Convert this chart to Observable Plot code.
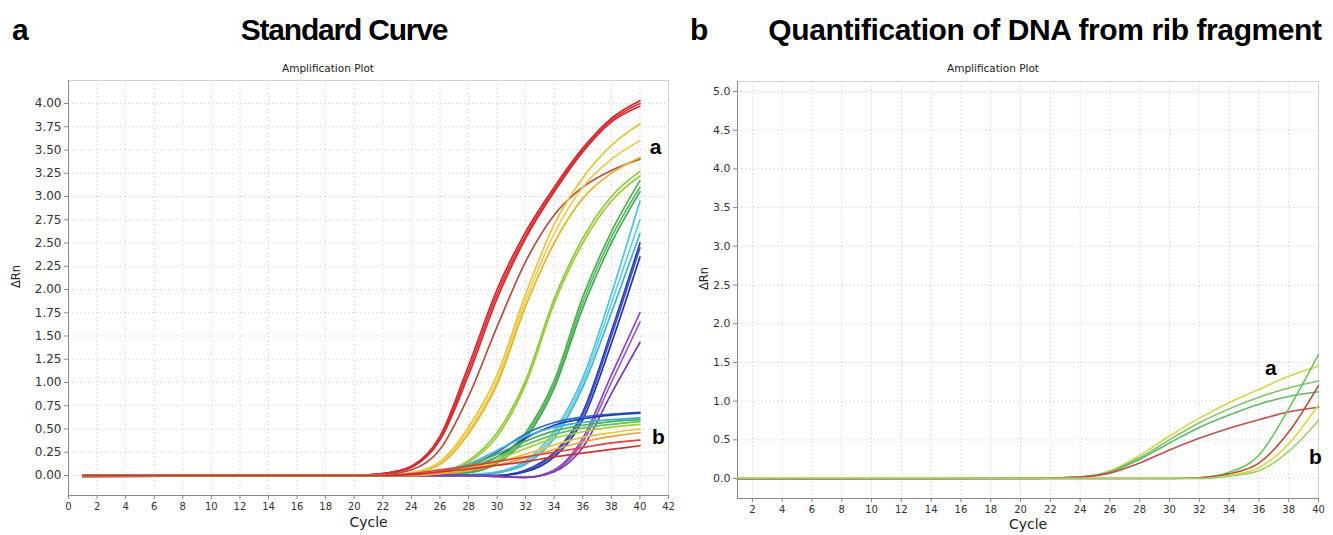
<!DOCTYPE html>
<html><head><meta charset="utf-8">
<script src="https://cdn.jsdelivr.net/npm/d3@7"></script>
<script src="https://cdn.jsdelivr.net/npm/@observablehq/plot@0.6"></script>
<style>
body{margin:0;background:#fff;font-family:"Liberation Sans",Arial,sans-serif;}
#wrap{position:relative;width:1333px;height:535px;overflow:hidden;background:#fff;}
.letter{position:absolute;font-weight:bold;font-size:30px;line-height:1;top:15px;color:#000}
.title{position:absolute;font-weight:bold;font-size:30px;line-height:1;top:15px;white-space:nowrap;transform:translateX(-50%);color:#000}
.sub{position:absolute;font-family:"DejaVu Sans",sans-serif;font-size:10.5px;line-height:1;top:63px;white-space:nowrap;transform:translateX(-50%);color:#222}
.chart{position:absolute;top:78px}
</style>
</head><body>
<div id="wrap">
 <div class="letter" style="left:12px">a</div>
 <div class="title" style="left:344px;letter-spacing:-1.2px">Standard Curve</div>
 <div class="sub" style="left:328px">Amplification Plot</div>
 <div class="letter" style="left:690px">b</div>
 <div class="title" style="left:1045px;letter-spacing:-0.4px">Quantification of DNA from rib fragment</div>
 <div class="sub" style="left:993px">Amplification Plot</div>
 <div id="left" class="chart" style="left:0"></div>
 <div id="right" class="chart" style="left:680px"></div>
</div>
<script>
// ---------- Panel a: standard curve ----------
const cyclesA = [1, 20, 22, 24, 26, 28, 30, 32, 34, 36, 38, 40];
const seriesA = ["red1","red2","red3","brown","yellow1","yellow2","yellow3","lime1","lime2",
  "green1","green2","green3","cyan1","cyan2","cyan3","blue1","blue2","blue3","purple1","purple2","purple3",
  "lowBlue1","lowBlue2","lowCyan","lowGreen1","lowGreen2","lowLime","lowYellow","lowOrange","lowRed1","lowRed2"];
const valuesA = [
  [-0.01,0,0.02,0.10,0.42,1.18,2.00,2.62,3.10,3.52,3.84,4.03],
  [-0.01,0,0.02,0.09,0.40,1.13,1.95,2.58,3.07,3.50,3.82,4.00],
  [-0.01,0,0.02,0.09,0.38,1.08,1.90,2.55,3.05,3.48,3.80,3.97],
  [-0.01,0,0.01,0.06,0.28,0.85,1.60,2.30,2.80,3.10,3.28,3.40],
  [0,0,0,0.03,0.15,0.52,1.08,1.95,2.70,3.20,3.55,3.78],
  [0,0,0,0.03,0.14,0.48,1.02,1.88,2.60,3.10,3.40,3.60],
  [0,0,0,0.02,0.12,0.45,0.98,1.82,2.50,2.98,3.25,3.42],
  [0,0,0,0.01,0.04,0.16,0.46,1.02,1.90,2.55,3.00,3.27],
  [0,0,0,0.01,0.03,0.14,0.42,0.98,1.85,2.50,2.95,3.22],
  [0,0,0,0,0.01,0.04,0.16,0.46,1.02,1.92,2.62,3.17],
  [0,0,0,0,0.01,0.03,0.14,0.43,0.98,1.86,2.56,3.10],
  [0,0,0,0,0.01,0.03,0.13,0.40,0.94,1.80,2.50,3.05],
  [0,0,0,0,0,0.01,0.04,0.16,0.48,1.05,1.95,2.95],
  [0,0,0,0,0,0.01,0.03,0.14,0.44,1.00,1.85,2.75],
  [0,0,0,0,0,0,0.03,0.12,0.40,0.95,1.75,2.60],
  [0,0,0,0,0,0,0,0.06,0.25,0.68,1.55,2.50],
  [0,0,0,0,0,0,0,0.05,0.23,0.65,1.50,2.45],
  [0,0,0,0,0,0,0,0.04,0.20,0.60,1.42,2.35],
  [0,0,0,0,0,0,-0.01,-0.02,0.06,0.40,1.08,1.75],
  [0,0,0,0,0,0,-0.01,-0.02,0.05,0.36,1.00,1.65],
  [0,0,0,0,0,0,-0.01,-0.02,0.04,0.30,0.88,1.43],
  [0,0,0,0.01,0.03,0.10,0.25,0.45,0.57,0.63,0.66,0.68],
  [0,0,0,0,0.02,0.07,0.20,0.40,0.54,0.61,0.65,0.67],
  [0,0,0,0.01,0.04,0.12,0.27,0.42,0.52,0.57,0.60,0.62],
  [0,0,0,0.01,0.04,0.11,0.23,0.37,0.48,0.54,0.58,0.60],
  [0,0,0,0.01,0.03,0.09,0.20,0.33,0.44,0.51,0.55,0.58],
  [0,0,0,0,0.03,0.08,0.17,0.29,0.40,0.47,0.52,0.55],
  [0,0,0,0,0.02,0.07,0.14,0.23,0.33,0.41,0.46,0.50],
  [0,0,0,0,0.02,0.05,0.11,0.19,0.28,0.36,0.42,0.46],
  [0,0,0,0.02,0.06,0.10,0.15,0.20,0.25,0.30,0.35,0.38],
  [0,0,0,0.01,0.04,0.07,0.11,0.15,0.20,0.24,0.28,0.32]
];
const colorsA = ["#d8242b","#dc3438","#d42a30","#b84c40","#e8c23a","#eccd55","#e3b52a","#8dc63f","#9ccc3c",
  "#4cb050","#5cb860","#3faa55","#4fc3dc","#66cde0","#3bb5d3","#2c3fb0","#3a52c4","#2535a0","#8e44c0","#9b59c6","#7d3cb0",
  "#2a6ad0","#1f3fa8","#38b0e0","#4cb050","#69c060","#a5cf3a","#e8c23a","#f0a030","#e04040","#d03030"];
const xTicksA = d3.range(0, 43, 2);
const yTicksA = d3.range(0, 4.01, 0.25);
const annotA = [{cycle: 41.1, value: 3.53, text: "a"}, {cycle: 41.3, value: 0.41, text: "b"}];

// ---------- Panel b: rib fragment ----------
const cyclesB = [1, 20, 24, 26, 28, 30, 32, 34, 36, 38, 40];
const seriesB = ["aYellow","aGreen1","aGreen2","aRed","bGreen","bRed","bYellow","bLightGreen"];
const valuesB = [
  [0,0,0.02,0.10,0.30,0.55,0.78,0.98,1.15,1.32,1.45],
  [0,0,0.02,0.09,0.27,0.50,0.72,0.90,1.05,1.17,1.26],
  [0,0,0.02,0.08,0.25,0.46,0.66,0.82,0.96,1.06,1.12],
  [-0.01,0,0.02,0.07,0.20,0.37,0.52,0.65,0.76,0.86,0.92],
  [0,0,0,0,0,0,0.01,0.08,0.30,0.90,1.60],
  [-0.01,0,0,0,0,0,0.01,0.06,0.20,0.60,1.20],
  [0,0,0,0,0,0,0,0.04,0.14,0.45,0.95],
  [0,0,0,0,0,0,0,0.03,0.10,0.35,0.75]
];
const colorsB = ["#cfd84a","#7cc46a","#62b868","#c0504d","#6cc45a","#b84a3a","#d8d84a","#9ed070"];
const xTicksB = d3.range(2, 41, 2);
const yTicksB = d3.range(0, 5.01, 0.5);
const annotB = [{cycle: 36.8, value: 1.42, text: "a"}, {cycle: 39.8, value: 0.27, text: "b"}];

function toRows(series, cycles, values) {
  const rows = [];
  series.forEach((s, i) => cycles.forEach((c, j) => rows.push({series: s, cycle: c, value: values[i][j]})));
  return rows;
}

const baseStyle = {fontFamily: "'DejaVu Sans', sans-serif", fontSize: "10px", color: "#333", background: "#fff", overflow: "visible"};

function panel({width, marginLeft, marginRight, marginTop, marginBottom, xDomain, yDomain, xTicks, yTicks, fmt, yFont,
                series, colors, rows, annot, yLabelDx, xLabelDy, sw}) {
  return Plot.plot({
    width, height: 457, marginLeft, marginRight, marginTop, marginBottom,
    style: baseStyle,
    x: {domain: xDomain},
    y: {domain: yDomain},
    color: {domain: series, range: colors},
    marks: [
      Plot.gridX(xTicks, {stroke: "#999", strokeOpacity: 0.4, strokeDasharray: "1.5,2.5"}),
      Plot.gridY(yTicks, {stroke: "#999", strokeOpacity: 0.4, strokeDasharray: "1.5,2.5"}),
      Plot.frame({stroke: "#d2d2d2"}),
      Plot.ruleX([xDomain[0]], {stroke: "#8a8a8a"}),
      Plot.ruleY([yDomain[0]], {stroke: "#8a8a8a"}),
      Plot.axisX(xTicks, {tickSize: 4, tickPadding: 3, stroke: "#888", fill: "#333", fontSize: 10, label: null}),
      Plot.axisY(yTicks, {tickSize: 4, tickPadding: 3, stroke: "#888", fill: "#333", fontSize: yFont, tickFormat: d3.format(fmt), label: null}),
      Plot.text(["Cycle"], {frameAnchor: "bottom", dy: xLabelDy, fontSize: 14, fill: "#222"}),
      Plot.text(["ΔRn"], {frameAnchor: "left", dx: yLabelDx, rotate: -90, fontSize: 11.5, fill: "#222"}),
      Plot.line(rows, {x: "cycle", y: "value", z: "series", stroke: "series", curve: "monotone-x", strokeWidth: sw}),
      Plot.text(annot, {x: "cycle", y: "value", text: "text", fontSize: 21, fontWeight: "bold", fill: "#000", fontFamily: "Liberation Sans, Arial, sans-serif"})
    ]
  });
}

document.getElementById("left").append(panel({
  width: 680, marginLeft: 68, marginRight: 12, marginTop: 2, marginBottom: 40,
  xDomain: [0, 42], yDomain: [-0.215, 4.247],
  xTicks: xTicksA, yTicks: yTicksA, fmt: ".2f", yFont: 12, series: seriesA, colors: colorsA,
  rows: toRows(seriesA, cyclesA, valuesA), annot: annotA, yLabelDx: -52, xLabelDy: 31, sw: 1.7
}));
document.getElementById("right").append(panel({
  width: 653, marginLeft: 57, marginRight: 15, marginTop: 3, marginBottom: 37,
  xDomain: [1, 40], yDomain: [-0.258, 5.129],
  xTicks: xTicksB, yTicks: yTicksB, fmt: ".1f", yFont: 11, series: seriesB, colors: colorsB,
  rows: toRows(seriesB, cyclesB, valuesB), annot: annotB, yLabelDx: -33, xLabelDy: 30, sw: 1.6
}));
</script>
</body></html>
